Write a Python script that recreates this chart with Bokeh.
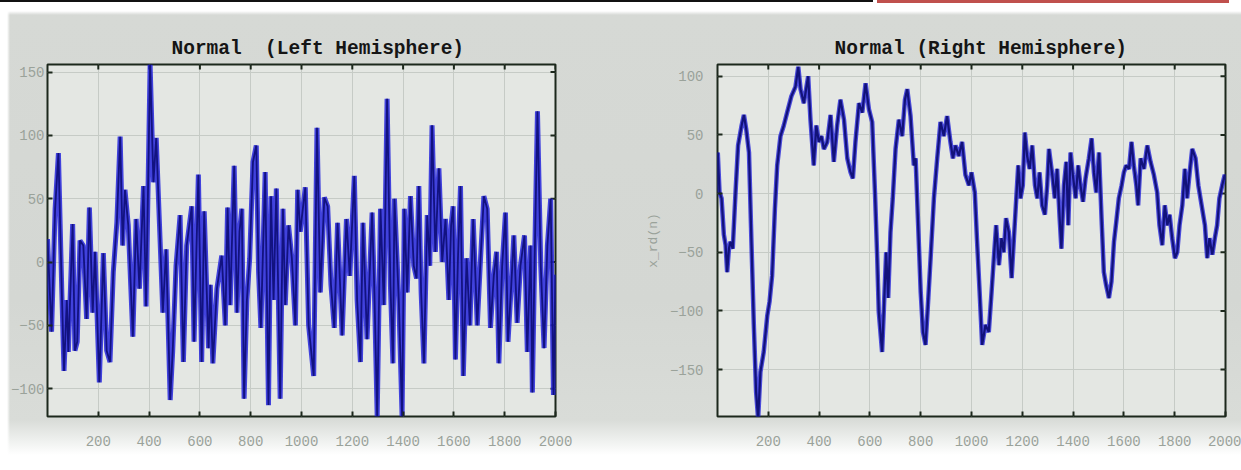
import math
from bokeh.plotting import figure
from bokeh.models import FixedTicker, Range1d
from bokeh.layouts import row
from bokeh.embed import file_html
from bokeh.resources import INLINE

# ---------------- data ----------------
left_n = [0, 16, 30, 43, 56, 65, 76, 82, 99, 108, 117, 128, 141, 154, 165, 178, 187, 204, 220, 233,
          246, 259, 273, 286, 296, 305, 318, 336, 349, 362, 378, 388, 404, 417, 428, 441, 454, 467, 483, 493,
          506, 522, 535, 548, 568, 577, 594, 607, 617, 634,
          641, 651, 667, 686, 700, 709, 719, 735, 746, 756, 765, 774, 785, 796, 809, 822, 831, 840, 857, 870,
          880, 890, 901, 916, 927, 936, 949, 962, 976, 985, 995, 1015, 1028, 1048, 1061, 1074, 1090, 1103, 1116, 1129,
          1142, 1160, 1177, 1190, 1208, 1219, 1232, 1242, 1258, 1278, 1287, 1298,
          1311, 1324, 1337, 1350, 1360, 1366, 1376, 1383, 1396, 1405, 1416, 1429, 1442, 1453, 1462, 1471, 1482, 1495, 1505, 1514,
          1527, 1541, 1554, 1567, 1580, 1589, 1597, 1606, 1616, 1626, 1637, 1650, 1663, 1676, 1692, 1705, 1718, 1731, 1744, 1757,
          1768, 1777, 1790, 1803, 1813, 1826, 1836, 1849, 1862, 1878, 1889, 1902, 1909, 1918, 1929, 1942, 1955, 1968, 1981, 1992, 2000]
left_v = [18, -55, 42, 86, -21, -86, -30, -71, 30, -70, -63, 17, 13, -45, 43, -40, 8, -95, 7, -70,
          -79, -8, 31, 99, 13, 57, 29, -59, 34, -21, 60, -35, 156, 63, 98, 29, -40, 10, -109, -70,
          -3, 37, -79, 13, 44, -63, 69, -79, 40, -68,
          -18, -80, -21, 5, -50, 43, -34, 76, -40, 24, 42, -108, -30, 3, 79, 92, -8, -52, 71, -113,
          52, -30, 58, -108, 42, -34, 29, 3, -50, 57, 24, 59, -50, -90, 106, -24, 51, 44, -18, -52,
          31, -58, 34, -11, 68, -30, -79, 31, -61, 39, -24, -122,
          42, -34, 129, -18, -80, 50, 3, -30, -122, 42, -24, 52, -3, -13, 60, -24, -80, 37, -3, 108,
          8, 74, 0, 34, -30, 29, 44, -77, 3, 60, -90, 3, -50, 34, -50, 3, 52, 42, -52, -11,
          8, -80, -3, 39, -63, -18, 21, -48, -3, 21, -71, 13, -103, 3, 119, -3, -68, 13, 50, -105, -10]

right_n = [1, 8, 16, 25, 32, 38, 45, 51, 60, 71, 81, 95, 104, 113, 124, 134, 143, 152, 160, 169,
           182, 196, 205, 215, 226, 235, 248, 261, 274, 291, 307, 318, 327, 340, 357, 366, 379, 389, 399, 409,
           419, 432, 445, 458, 471, 484, 498, 511, 524, 533, 543, 557, 570, 583, 596, 609, 620, 629, 635, 648,
           655, 664, 672, 681, 690, 701, 714, 727, 738, 747, 760, 773, 780, 790, 800, 809, 819, 830, 839, 852,
           865, 878, 891, 904, 917, 927, 937, 950, 963, 976, 990, 1000, 1013, 1022, 1032, 1042, 1055, 1068, 1079, 1088,
           1097, 1108, 1118, 1127, 1136, 1147, 1158, 1167, 1173, 1184, 1193, 1202, 1210, 1219, 1229, 1239, 1250, 1259, 1268, 1278,
           1289, 1298, 1305,
           1318, 1328, 1337, 1347, 1354, 1364, 1373, 1381, 1390, 1399, 1410, 1420, 1429, 1439, 1449, 1462, 1473, 1482, 1491, 1502,
           1512, 1521, 1530, 1541, 1551, 1561, 1570, 1580, 1591, 1600, 1609, 1620, 1630, 1639, 1649, 1656, 1666, 1679, 1692, 1705,
           1718, 1731, 1740, 1751, 1761, 1771, 1780, 1790, 1801, 1810, 1819, 1830, 1840, 1849, 1859, 1869, 1882, 1893, 1906, 1919,
           1928, 1937, 1948, 1958, 1967, 1976, 1987, 1997, 2000]
right_v = [35, 1, -4, -35, -44, -67, -47, -41, -47, 1, 41, 58, 67, 55, 35, -44, -112, -169, -192, -152,
           -135, -104, -92, -70, -13, 24, 49, 58, 69, 83, 91, 108, 89, 77, 100, 63, 24, 58, 44, 49,
           38, 44, 67, 27, 58, 80, 63, 30, 18, 13, 44, 77, 69, 94, 72, 61, 1, -56, -101, -135,
           -98, -50, -89, -33, -4, 38, 63, 49, 80, 89, 66, 24, 30, -27, -84, -118, -129, -89, -55, -4,
           30, 61, 49, 66, 44, 30, 41, 32, 44, 16, 7, 18, 1, -41, -84, -129, -112, -118, -84, -55,
           -27, -61, -38, -50, -21, -33, -72, -38, -16, 24, -4, 7, 52, 32, 21, 41, 7, -4, 18, -10,
           -18, 7, 38,
           16, -4, 21, -21, -47, 7, 27, -27, 35, 16, -4, 24, 7, -7, 13, 30, 47, 18, 1, 35,
           -21, -67, -78, -89, -75, -41, -24, -4, 7, 18, 24, 21, 44, 24, 7, -10, 30, 21, 41, 27,
           16, 1, -27, -44, -10, -27, -18, -38, -55, -50, -27, -10, 21, -4, 18, 38, 30, 7, -10, -27,
           -55, -38, -52, -38, -27, -4, 7, 16, 12]

x_ticks = [200, 400, 600, 800, 1000, 1200, 1400, 1600, 1800, 2000]
left_y_ticks = [-100, -50, 0, 50, 100, 150]
right_y_ticks = [-150, -100, -50, 0, 50, 100]

left_title = "Normal\u00a0 (Left Hemisphere)"
right_title = "Normal (Right Hemisphere)"
right_ylabel = "x_rd(n)"

# ---------------- styling ----------------
MONO = "Liberation Mono"
TICK_COLOR = "#9aa29a"
FRAME_COLOR = "#1c281c"


def make_fig(title, width, bl, br, bt, bb, yr, yticks, ylab_standoff, ylabel=None, title_offset=0):
    p = figure(width=width, height=470, x_range=Range1d(0, 2000), y_range=Range1d(*yr),
               output_backend="svg", toolbar_location=None,
               min_border_left=bl, min_border_right=br, min_border_top=bt, min_border_bottom=bb)
    p.border_fill_alpha = 0
    p.background_fill_color = "#e4e7e3"
    p.outline_line_color = FRAME_COLOR
    p.outline_line_width = 2

    p.title.text = title
    p.title.align = "left"
    p.title.offset = title_offset
    p.title.text_font = MONO
    p.title.text_font_style = "bold"
    p.title.text_font_size = "19.5px"
    p.title.text_color = "#151515"
    p.title.standoff = 9

    xa = p.xaxis[0]
    xa.ticker = FixedTicker(ticks=x_ticks)
    ya = p.yaxis[0]
    ya.ticker = FixedTicker(ticks=yticks)
    for ax in (xa, ya):
        ax.axis_line_color = None
        ax.major_tick_in = 5
        ax.major_tick_out = 0
        ax.major_tick_line_color = FRAME_COLOR
        ax.major_tick_line_width = 2
        ax.minor_tick_line_color = None
        ax.major_label_text_font = MONO
        ax.major_label_text_font_size = "14px"
        ax.major_label_text_color = TICK_COLOR
    xa.major_label_standoff = 19
    ya.major_label_standoff = ylab_standoff
    if ylabel:
        ya.axis_label = ylabel
        ya.axis_label_text_font = MONO
        ya.axis_label_text_font_style = "normal"
        ya.axis_label_text_font_size = "13px"
        ya.axis_label_text_color = TICK_COLOR
        ya.axis_label_standoff = 6

    p.xgrid.ticker = FixedTicker(ticks=x_ticks)
    p.ygrid.ticker = FixedTicker(ticks=yticks)
    for g in (p.xgrid, p.ygrid):
        g.grid_line_color = "#c6cbc6"
        g.grid_line_width = 1

    # mirrored inward ticks on the top and right edges (half of each dash is clipped by the frame)
    p.scatter(x_ticks, [yr[1]] * len(x_ticks), marker="dash", angle=math.pi / 2, size=10,
              line_color=FRAME_COLOR, line_width=2)
    p.scatter([2000] * len(yticks), yticks, marker="dash", size=10,
              line_color=FRAME_COLOR, line_width=2)
    return p


p1 = make_fig(left_title, 620, 47, 65, 64, 54, (-122, 156), left_y_ticks, 3, title_offset=124)
p1.line(left_n, left_v, line_width=5, color="#2424dc", alpha=0.85)
p1.line(left_n, left_v, line_width=1.8, color="#121280")

p2 = make_fig(right_title, 621, 97, 16, 63, 54, (-190, 110), right_y_ticks, 14, right_ylabel, title_offset=117)
p2.line(right_n, right_v, line_width=4.5, color="#2424d8", alpha=0.8)
p2.line(right_n, right_v, line_width=2.2, color="#12127a")

bg = ("linear-gradient(#111,#111) 0 0 / 873px 2px no-repeat, "
      "linear-gradient(#c0504d,#c0504d) 877px 0 / 352px 3px no-repeat, "
      "linear-gradient(90deg, #fff 0px, #fff 7px, rgba(255,255,255,0) 10px) 0 0 / 100% 100% no-repeat, "
      "linear-gradient(180deg, #fff 0px, #fff 11px, #d6d9d5 15px, #d4d7d3 300px, #d9dcd8 420px, "
      "#eef0ee 440px, #ffffff 455px)")

layout = row(p1, p2, spacing=0, styles={"background": bg})

open("out.html", "w").write(file_html(layout, INLINE))
